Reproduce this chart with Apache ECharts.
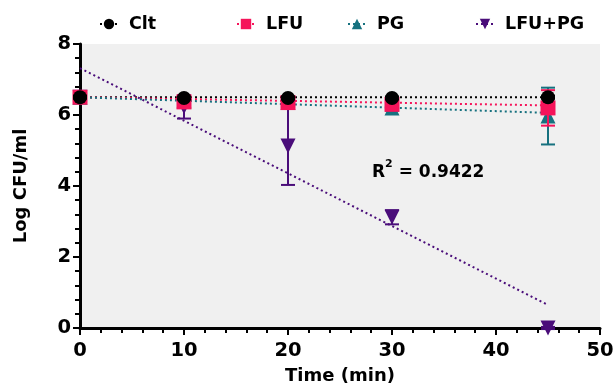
<!DOCTYPE html>
<html><head><meta charset="utf-8">
<script src="https://cdn.jsdelivr.net/npm/echarts@6/dist/echarts.min.js"></script>
<style>html,body{margin:0;padding:0;background:#fff}#c{width:614px;height:387px}</style>
</head><body><div id="c"></div>
<script>
const timePoints = [0, 10, 20, 30, 45];
const cltMean = [6.5, 6.48, 6.48, 6.48, 6.5];
const cltSD = [0.04, 0.04, 0.04, 0.04, 0.04];
const lfuMean = [6.5, 6.37, 6.35, 6.3, 6.2];
const lfuSD = [0.05, 0.08, 0.08, 0.08, 0.5];
const pgMean = [6.5, 6.4, 6.35, 6.2, 5.97];
const pgSD = [0.05, 0.08, 0.08, 0.08, 0.8];
const comboMean = [6.5, 6.23, 5.13, 3.12, 0.0];
const comboSD = [0.05, 0.33, 1.1, 0.2, 0.03];
const fitX = [0, 45];
const cltFit = [6.5, 6.5];
const lfuFit = [6.5, 6.27];
const pgFit = [6.5, 6.06];
const comboFit = [7.32, 0.65];
const xTicks = [0, 10, 20, 30, 40, 50];
const yTicks = [0, 2, 4, 6, 8];
const names = ['Clt', 'LFU', 'PG', 'LFU+PG'];
const rSquared = '0.9422';

const colors = ['#000000', '#f5145a', '#16717f', '#4a0d7a'];
const symbols = ['circle', 'rect', 'triangle', 'path://M0,0 L10,0 L5,9 Z'];
const sizes = [14, 15, 15, 15];
const means = [cltMean, lfuMean, pgMean, comboMean];
const sds = [cltSD, lfuSD, pgSD, comboSD];
const fits = [cltFit, lfuFit, pgFit, comboFit];
const FONT = '"DejaVu Sans", sans-serif';

const series = [];
for (let i = 0; i < 4; i++) {
  series.push({
    type: 'line', name: names[i],
    data: fitX.map((x, k) => [x, fits[i][k]]),
    symbol: symbols[i], symbolSize: 12, showSymbol: false,
    lineStyle: { color: colors[i], width: 2, type: [2, 3] },
    itemStyle: { color: colors[i] },
    silent: true, z: 2
  });
}
const order = [3, 2, 1, 0];
order.forEach((i, oi) => {
  series.push({
    type: 'custom', name: names[i],
    data: timePoints.map((x, k) => [x, means[i][k], sds[i][k]]),
    renderItem: function (params, api) {
      const x = api.value(0), m = api.value(1), s = api.value(2);
      const top = api.coord([x, m + s]);
      const bot = api.coord([x, m - s]);
      const hw = 7;
      const st = { stroke: colors[i], lineWidth: 2 };
      return { type: 'group', children: [
        { type: 'line', shape: { x1: top[0], y1: top[1], x2: bot[0], y2: bot[1] }, style: st },
        { type: 'line', shape: { x1: top[0] - hw, y1: top[1], x2: top[0] + hw, y2: top[1] }, style: st },
        { type: 'line', shape: { x1: bot[0] - hw, y1: bot[1], x2: bot[0] + hw, y2: bot[1] }, style: st }
      ]};
    },
    encode: { x: 0, y: 1 },
    clip: false, silent: true, z: 3 + oi * 2
  });
  series.push({
    type: 'scatter', name: names[i],
    data: timePoints.map((x, k) => [x, means[i][k]]),
    symbol: symbols[i], symbolSize: sizes[i],
    itemStyle: { color: colors[i], opacity: 1 },
    clip: false, silent: true, z: 4 + oi * 2
  });
});

const legendLefts = [94, 231, 342, 470];
const legends = names.map((n, i) => ({
  data: [n], left: legendLefts[i], top: 10, itemWidth: 18, itemHeight: 13, itemGap: 0,
  selectedMode: false,
  textStyle: { fontFamily: FONT, fontWeight: 'bold', fontSize: 17.5, color: '#000', padding: [0, 0, 0, 6] }
}));

const chart = echarts.init(document.getElementById('c'));
chart.setOption({
  animation: false,
  legend: legends,
  grid: { left: 80, right: 14, top: 44, bottom: 59, show: true, backgroundColor: '#f0f0f0', borderWidth: 0,
    containLabel: false, outerBoundsMode: 'none' },
  xAxis: {
    type: 'value', min: 0, max: 50, interval: 10,
    name: 'Time (min)', nameLocation: 'middle', nameGap: 39,
    nameTextStyle: { fontFamily: FONT, fontWeight: 'bold', fontSize: 18, color: '#000' },
    axisLine: { lineStyle: { color: '#000', width: 3 } },
    axisTick: { length: 7, lineStyle: { width: 2, color: '#000' } },
    minorTick: { show: true, splitNumber: 5, length: 5, lineStyle: { width: 2, color: '#000' } },
    axisLabel: { fontFamily: FONT, fontWeight: 'bold', fontSize: 19.5, color: '#000', margin: 13,
      formatter: v => xTicks.includes(v) ? String(v) : '' },
    splitLine: { show: false }
  },
  yAxis: {
    type: 'value', min: 0, max: 8, interval: 2,
    name: 'Log CFU/ml', nameLocation: 'middle', nameGap: 50,
    nameTextStyle: { fontFamily: FONT, fontWeight: 'bold', fontSize: 18, color: '#000' },
    axisLine: { lineStyle: { color: '#000', width: 3 } },
    axisTick: { length: 7, lineStyle: { width: 2, color: '#000' } },
    minorTick: { show: true, splitNumber: 5, length: 5, lineStyle: { width: 2, color: '#000' } },
    axisLabel: { fontFamily: FONT, fontWeight: 'bold', fontSize: 19.5, color: '#000', margin: 9,
      formatter: v => yTicks.includes(v) ? String(v) : '' },
    splitLine: { show: false }
  },
  graphic: [{
    type: 'text', left: 372, top: 159, z: 20,
    style: {
      text: '{a|R}{s|2}{a| = ' + rSquared + '}',
      rich: {
        a: { fontFamily: FONT, fontWeight: 'bold', fontSize: 17, color: '#000', verticalAlign: 'bottom', lineHeight: 22 },
        s: { fontFamily: FONT, fontWeight: 'bold', fontSize: 11, color: '#000', verticalAlign: 'top', lineHeight: 22, padding: [0, 0, 8, 0] }
      }
    }
  }],
  series: series
});
</script></body></html>
